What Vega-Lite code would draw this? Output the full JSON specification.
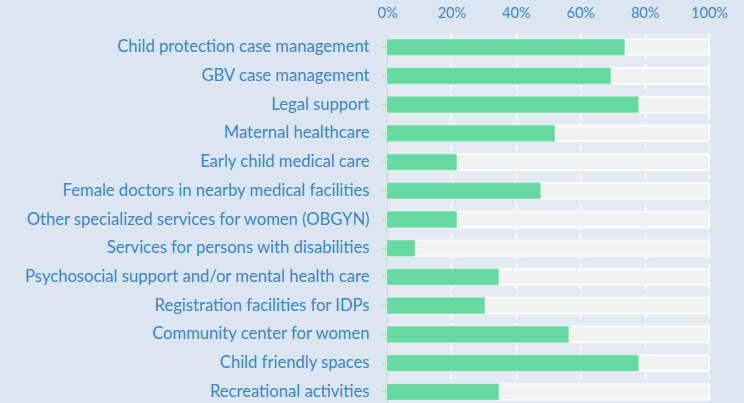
{
  "$schema": "https://vega.github.io/schema/vega-lite/v6.json",
  "autosize": {"type": "none"},
  "padding": {"left": 387, "top": 33, "right": 35, "bottom": 0},
  "width": 322,
  "height": 373,
  "background": "#dce6f1",
  "config": {
    "view": {"fill": "#e4eaf3", "stroke": null},
    "font": "Lato"
  },
  "data": {
    "values": [
      {"service": "Child protection case management", "pct": 73.7, "full": 100},
      {"service": "GBV case management", "pct": 69.4, "full": 100},
      {"service": "Legal support", "pct": 78, "full": 100},
      {"service": "Maternal healthcare", "pct": 52, "full": 100},
      {"service": "Early child medical care", "pct": 21.6, "full": 100},
      {"service": "Female doctors in nearby medical facilities", "pct": 47.6, "full": 100},
      {"service": "Other specialized services for women (OBGYN)", "pct": 21.6, "full": 100},
      {"service": "Services for persons with disabilities", "pct": 8.6, "full": 100},
      {"service": "Psychosocial support and/or mental health care", "pct": 34.6, "full": 100},
      {"service": "Registration facilities for IDPs", "pct": 30.3, "full": 100},
      {"service": "Community center for women", "pct": 56.3, "full": 100},
      {"service": "Child friendly spaces", "pct": 78, "full": 100},
      {"service": "Recreational activities", "pct": 34.6, "full": 100}
    ]
  },
  "encoding": {
    "y": {
      "field": "service",
      "type": "nominal",
      "sort": null,
      "title": null,
      "scale": {"paddingInner": 0.45, "paddingOuter": 0.22},
      "axis": {
        "labelColor": "#3a87c8",
        "labelFontSize": 16.6,
        "labelFont": "Lato",
        "labelPadding": 13,
        "labelLimit": 400,
        "tickColor": "#c8c8c8",
        "tickSize": 5,
        "domainColor": "#d4d8de",
        "domainWidth": 1.5,
        "grid": false
      }
    }
  },
  "layer": [
    {
      "mark": {"type": "bar", "color": "#f2f2f2", "stroke": "#ffffff", "strokeWidth": 1.5},
      "encoding": {
        "x": {
          "field": "full",
          "type": "quantitative",
          "scale": {"domain": [0, 100], "nice": false},
          "title": null,
          "axis": {
            "orient": "top",
            "values": [0, 20, 40, 60, 80, 100],
            "labelExpr": "datum.value + '%'",
            "labelColor": "#3a87c8",
            "labelFontSize": 14.5,
            "labelFont": "Lato",
            "labelPadding": 13,
            "labelFlush": false,
            "ticks": false,
            "domain": false,
            "grid": true,
            "gridColor": "#ffffff",
            "gridWidth": 1.5,
            "gridDash": [6, 4]
          }
        }
      }
    },
    {
      "mark": {"type": "bar", "color": "#66d9a0", "stroke": "#7fe0b0", "strokeWidth": 0.8},
      "encoding": {
        "x": {"field": "pct", "type": "quantitative"}
      }
    }
  ]
}
